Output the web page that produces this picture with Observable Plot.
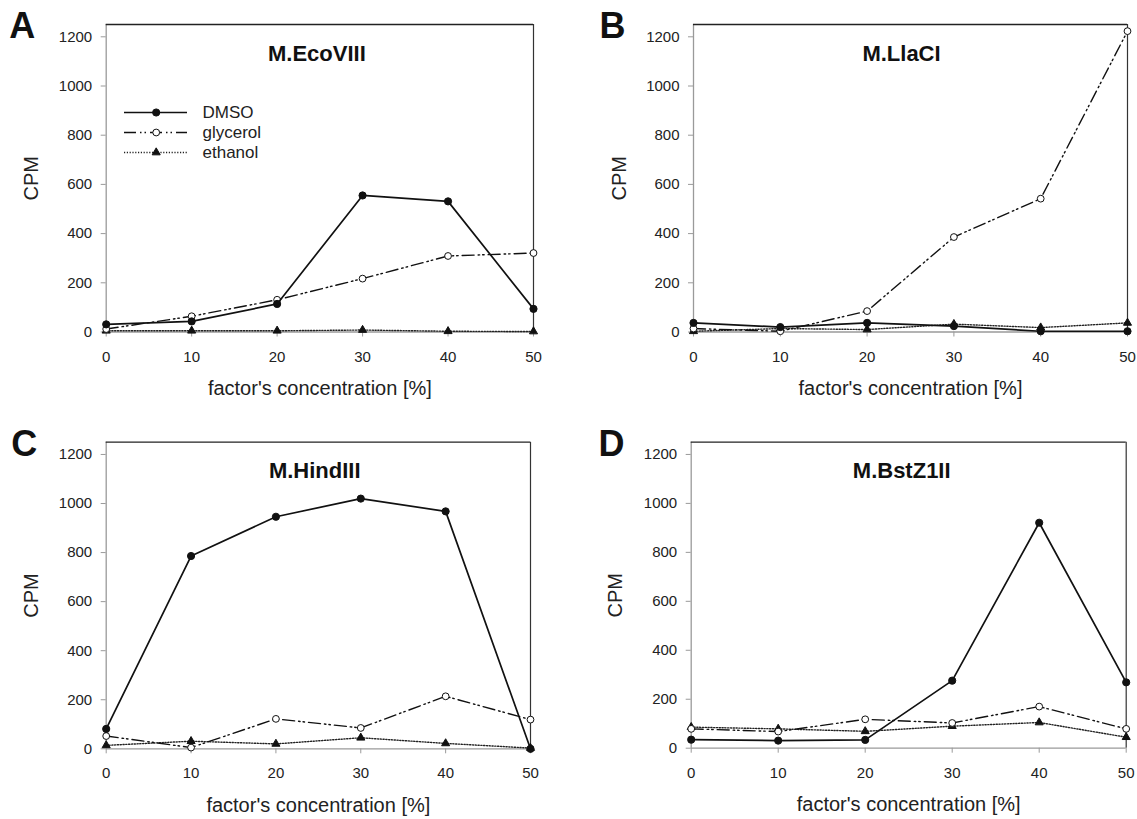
<!DOCTYPE html>
<html><head><meta charset="utf-8">
<script src="https://cdn.jsdelivr.net/npm/d3@7"></script>
<script src="https://cdn.jsdelivr.net/npm/@observablehq/plot@0.6"></script>
<style>
body{margin:0;background:#fff;}
#root{position:relative;width:1137px;height:819px;overflow:hidden;background:#fff;font-family:"Liberation Sans",Arial,sans-serif;}
#root > svg, #root > figure{position:absolute;margin:0;}
</style></head><body><div id="root"></div>
<script>
// ---------- data ----------
const concentration = [0, 10, 20, 30, 40, 50];
const panelTitles = ["M.EcoVIII", "M.LlaCI", "M.HindIII", "M.BstZ1II"];
const panelLetters = ["A", "B", "C", "D"];
const seriesNames = ["DMSO", "glycerol", "ethanol"];
const yTicks = [0, 200, 400, 600, 800, 1000, 1200];
const xTicks = [0, 10, 20, 30, 40, 50];
const xLabel = "factor's concentration [%]";
const yLabel = "CPM";

const ecoVIII_DMSO     = [31, 43, 114, 555, 531, 94];
const ecoVIII_glycerol = [12, 64, 131, 217, 309, 321];
const ecoVIII_ethanol  = [5, 5, 5, 8, 3, 2];

const llaCI_DMSO     = [37, 20, 37, 24, 3, 3];
const llaCI_glycerol = [14, 3, 85, 386, 542, 1223];
const llaCI_ethanol  = [3, 14, 10, 32, 18, 37];

const hindIII_DMSO     = [81, 786, 946, 1020, 968, 0];
const hindIII_glycerol = [52, 5, 122, 85, 214, 119];
const hindIII_ethanol  = [14, 31, 20, 45, 22, 3];

const bstZ1II_DMSO     = [35, 31, 34, 276, 921, 269];
const bstZ1II_glycerol = [79, 68, 118, 103, 170, 79];
const bstZ1II_ethanol  = [86, 79, 69, 90, 105, 45];

const panelSeries = [
  [ecoVIII_DMSO, ecoVIII_glycerol, ecoVIII_ethanol],
  [llaCI_DMSO, llaCI_glycerol, llaCI_ethanol],
  [hindIII_DMSO, hindIII_glycerol, hindIII_ethanol],
  [bstZ1II_DMSO, bstZ1II_glycerol, bstZ1II_ethanol]
];

// ---------- styles / layout ----------
const FONT = '"Liberation Sans", Arial, sans-serif';
const styles = {
  DMSO:     {stroke: "#111", strokeWidth: 1.7, dash: null, symbol: "circle", fill: "#111", r: 3.6},
  glycerol: {stroke: "#111", strokeWidth: 1.4, dash: "12,4,1.5,3,1.5,4", symbol: "circle", fill: "#fff", r: 3.4},
  ethanol:  {stroke: "#222", strokeWidth: 1.4, dash: "1.2,1.6", symbol: "triangle", fill: "#111", r: 3.0}
};
const yMax = 1250;
const layout = [
  {left: 0,   top: 0,   width: 560, height: 400, mL: 105.7, mR: 27,   mT: 24,   mB: 68.5, letterDx: -84, letterDy: 1.5, titleDx: -3, titleDy: 29, yLabDx: -74.3, xLabDy: 56.5},
  {left: 560, top: 0,   width: 577, height: 400, mL: 133,   mR: 10,   mT: 24,   mB: 68.5, letterDx: -81, letterDy: 1.5, titleDx: -9, titleDy: 29, yLabDx: -74,   xLabDy: 56.5},
  {left: 0,   top: 400, width: 560, height: 419, mL: 105.7, mR: 30,   mT: 41.7, mB: 70.7, letterDx: -82, letterDy: 1.8, titleDx: -3.6, titleDy: 28.3, yLabDx: -74.5, xLabDy: 56.7},
  {left: 560, top: 400, width: 577, height: 419, mL: 130.7, mR: 11.3, mT: 41.7, mB: 71.3, letterDx: -79.7, letterDy: 1.8, titleDx: -7, titleDy: 28.3, yLabDx: -75.7, xLabDy: 56.7}
];

const root = document.getElementById("root");
const plainFormat = d => String(d);

panelSeries.forEach((seriesArr, p) => {
  const L = layout[p];
  const marks = [
    Plot.ruleX([0], {stroke: "#9a9a9a", strokeWidth: 1.3}),
    Plot.ruleY([0], {stroke: "#9a9a9a", strokeWidth: 1.3}),
    Plot.ruleY([yMax], {stroke: "#222", strokeWidth: 1.3}),
    Plot.ruleX([50], {stroke: "#333", strokeWidth: 1.2}),
    Plot.axisY(yTicks, {tickSize: 5, tickPadding: 9, stroke: "#9a9a9a", fill: "#222", fontSize: 15, tickFormat: plainFormat, label: null}),
    Plot.axisX(xTicks, {tickSize: 5, tickPadding: 14, stroke: "#9a9a9a", fill: "#222", fontSize: 15, tickFormat: plainFormat, label: null})
  ];
  // draw ethanol first, then glycerol, DMSO on top
  [2, 1, 0].forEach(s => {
    const name = seriesNames[s];
    const st = styles[name];
    const data = concentration.map((c, i) => ({x: c, y: seriesArr[s][i]}));
    marks.push(Plot.line(data, {x: "x", y: "y", stroke: st.stroke, strokeWidth: st.strokeWidth, strokeDasharray: st.dash || undefined}));
    marks.push(Plot.dot(data, {x: "x", y: "y", r: st.r, symbol: st.symbol, fill: st.fill, stroke: "#111", strokeWidth: 1}));
  });
  marks.push(Plot.text([panelTitles[p]], {frameAnchor: "top", dx: L.titleDx, dy: L.titleDy, fontSize: 22, fontWeight: "bold", fill: "#111", lineAnchor: "middle"}));
  marks.push(Plot.text([panelLetters[p]], {frameAnchor: "top-left", dx: L.letterDx, dy: L.letterDy, fontSize: 36, fontWeight: "bold", fill: "#111", textAnchor: "middle", lineAnchor: "middle"}));
  marks.push(Plot.text([yLabel], {frameAnchor: "left", dx: L.yLabDx, rotate: -90, fontSize: 20, fill: "#222", textAnchor: "middle", lineAnchor: "middle"}));
  marks.push(Plot.text([xLabel], {frameAnchor: "bottom", dy: L.xLabDy, fontSize: 20, fill: "#222", textAnchor: "middle", lineAnchor: "middle"}));

  const chart = Plot.plot({
    width: L.width, height: L.height,
    marginLeft: L.mL, marginRight: L.mR, marginTop: L.mT, marginBottom: L.mB,
    x: {domain: [0, 50], axis: null},
    y: {domain: [0, yMax], axis: null},
    style: {fontFamily: FONT, background: "transparent", overflow: "visible"},
    marks
  });
  chart.style.left = L.left + "px";
  chart.style.top = L.top + "px";
  root.appendChild(chart);
});

// ---------- legend (panel A) ----------
const legendLayout = {firstRowY: 112, rowGap: 20, lineX1: 124, lineX2: 187, markerX: 155.7, textX: 202};
const legendRows = seriesNames.map((name, i) => ({name, y: legendLayout.firstRowY + i * legendLayout.rowGap}));
const legendMarks = [];
legendRows.forEach(row => {
  const st = styles[row.name];
  legendMarks.push(Plot.ruleY([row], {y: "y", x1: legendLayout.lineX1, x2: legendLayout.lineX2, stroke: st.stroke, strokeWidth: st.strokeWidth, strokeDasharray: st.dash || undefined}));
  legendMarks.push(Plot.dot([row], {x: legendLayout.markerX, y: "y", r: st.r, symbol: st.symbol, fill: st.fill, stroke: "#111", strokeWidth: 1}));
  legendMarks.push(Plot.text([row], {x: legendLayout.textX, y: "y", text: "name", textAnchor: "start", lineAnchor: "middle", fontSize: 17, fill: "#222"}));
});
const legend = Plot.plot({
  width: 560, height: 400, margin: 0,
  x: {type: "identity", axis: null},
  y: {type: "identity", axis: null},
  style: {fontFamily: FONT, background: "transparent", overflow: "visible"},
  marks: legendMarks
});
legend.style.left = "0px";
legend.style.top = "0px";
root.appendChild(legend);
</script>
</body></html>
